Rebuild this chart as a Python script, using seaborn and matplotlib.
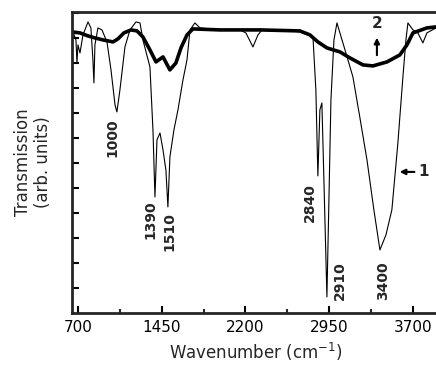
import numpy as np
import seaborn as sns
import matplotlib.pyplot as plt

# curve 1 (thin line)
wn1 = [655, 682, 691, 700, 718, 745, 790, 816, 834, 843, 852, 879, 915, 960, 996,
       1032, 1049, 1076, 1121, 1166, 1220, 1256, 1282, 1345, 1372, 1390, 1408, 1435,
       1462, 1488, 1506, 1524, 1560, 1596, 1641, 1677, 1704, 1748, 1793, 1972, 2152,
       2205, 2268, 2313, 2349, 2510, 2689, 2806, 2832, 2850, 2868, 2886, 2904, 2931,
       2949, 2967, 2994, 3021, 3093, 3164, 3227, 3290, 3352, 3406, 3460, 3513, 3567,
       3612, 3639, 3657, 3702, 3746, 3791, 3827, 3908]
tr1 = [11.24, 10.92, 10.0, 10.72, 10.4, 11.12, 11.64, 11.4, 10.12, 9.2, 10.72, 11.4,
       11.32, 10.84, 9.72, 8.32, 8.04, 8.92, 10.64, 11.32, 11.64, 11.6, 10.92, 9.84,
       7.32, 4.64, 6.92, 7.2, 6.52, 5.72, 4.24, 6.24, 7.32, 8.12, 9.32, 10.12, 11.32,
       11.6, 11.4, 11.32, 11.32, 11.2, 10.64, 11.12, 11.32, 11.32, 11.24, 11.04, 8.92,
       5.48, 8.12, 8.4, 5.32, 0.64, 4.52, 8.52, 10.92, 11.6, 10.52, 9.44, 7.8, 6.12,
       4.12, 2.52, 3.12, 4.12, 6.8, 9.44, 10.92, 11.6, 11.32, 11.2, 10.8, 11.2, 11.4]

# curve 2 (thick line)
wn2 = [646, 718, 790, 852, 924, 1014, 1058, 1112, 1175, 1229, 1282, 1345, 1399, 1462,
       1524, 1578, 1623, 1677, 1730, 1972, 2331, 2689, 2779, 2850, 2931, 3048, 3137,
       3254, 3343, 3469, 3585, 3648, 3702, 3827, 3908]
tr2 = [11.24, 11.2, 11.08, 11.0, 10.92, 10.84, 10.96, 11.2, 11.32, 11.28, 11.04, 10.52,
       10.04, 10.24, 9.72, 10.0, 10.6, 11.12, 11.36, 11.32, 11.32, 11.28, 11.12, 10.84,
       10.6, 10.44, 10.2, 9.92, 9.88, 10.04, 10.32, 10.72, 11.2, 11.4, 11.44]

peak_labels = ['1000', '1390', '1510', '2840', '2910', '3400']
peak_x = [1005, 1345, 1524, 2779, 3048, 3433]
peak_y = [7.0, 3.72, 3.24, 4.4, 1.28, 1.28]

sns.set_style('ticks')
plt.rcParams['font.family'] = ['DejaVu Sans']

fig = plt.figure(figsize=(4.36, 3.69), dpi=100)
ax = fig.add_axes([0.165, 0.152, 0.8456, 0.8157])

sns.lineplot(x=wn1, y=tr1, color='black', linewidth=0.8, ax=ax, estimator=None, sort=False)
sns.lineplot(x=wn2, y=tr2, color='black', linewidth=2.6, ax=ax, estimator=None, sort=False)

for lab, x, y in zip(peak_labels, peak_x, peak_y):
    ax.text(x, y, lab, rotation=90, ha='center', va='center', fontsize=10, fontweight='bold')

# curve labels
ax.annotate('', xy=(3558, 5.64), xytext=(3740, 5.64),
            arrowprops=dict(arrowstyle='-|>', color='black', lw=1.5, mutation_scale=8))
ax.text(3800, 5.64, '1', ha='center', va='center', fontsize=11, fontweight='bold')
ax.annotate('', xy=(3379, 11.12), xytext=(3379, 10.2),
            arrowprops=dict(arrowstyle='-|>', color='black', lw=1.5, mutation_scale=8))
ax.text(3379, 11.56, '2', ha='center', va='center', fontsize=11, fontweight='bold')

ax.set_xlim(646, 3950)
ax.set_ylim(0, 12.04)
ax.set_xticks([700, 1450, 2200, 2950, 3700])
ax.set_xticks([1075, 1825, 2575, 3325], minor=True)
ax.set_yticks(range(1, 13))
ax.set_yticklabels([])
ax.tick_params(axis='both', which='major', direction='in', length=5, width=1.5,
               labelsize=11, colors='black', pad=5)
ax.tick_params(axis='x', which='minor', direction='in', length=3, width=1.5)
for s in ax.spines.values():
    s.set_linewidth(2)
ax.set_xlabel('Wavenumber (cm$^{-1}$)', fontsize=12, labelpad=4)
ax.set_ylabel('Transmission\n(arb. units)', fontsize=12, labelpad=9)

fig.savefig('out.png', dpi=100)
